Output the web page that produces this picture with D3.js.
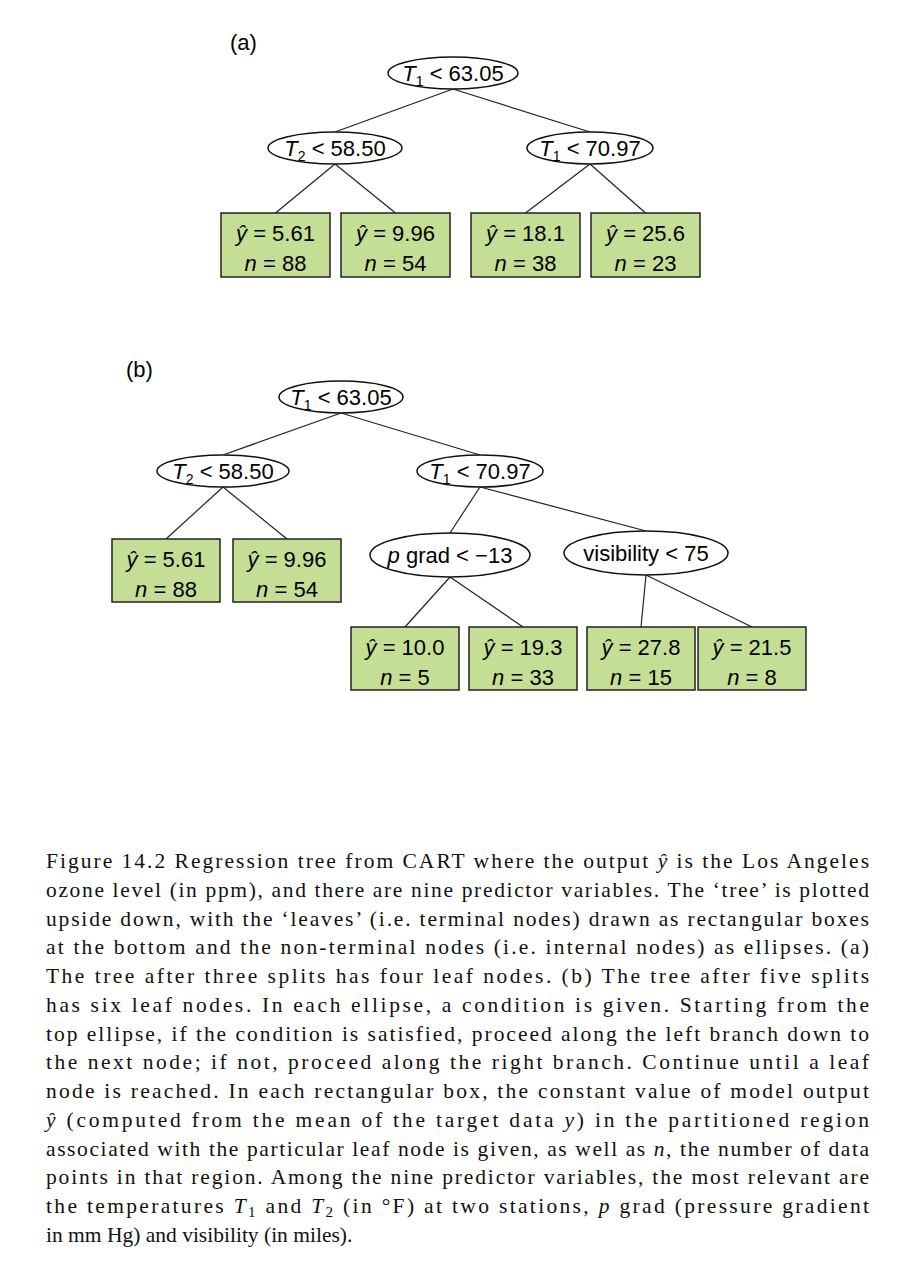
<!DOCTYPE html>
<html><head><meta charset="utf-8">
<script src="https://cdn.jsdelivr.net/npm/d3@7"></script>
<style>body{margin:0;background:#fff}</style>
</head><body>
<svg width="908" height="1280"></svg>
<script>
// Node labels: segments of [text, style] (i = italic, s = subscript)
var splitA = ["T1<63.05", "T2<58.50", "T1<70.97"];
var leafYA = ["5.61", "9.96", "18.1", "25.6"];
var leafNA = ["88", "54", "38", "23"];
var splitB = ["T1<63.05", "T2<58.50", "T1<70.97", "pgrad", "visibility < 75"];
var leafYB = ["5.61", "9.96", "10.0", "19.3", "27.8", "21.5"];
var leafNB = ["88", "54", "5", "33", "15", "8"];
var caption = [
  "Figure 14.2 Regression tree from CART where the output |ŷ| is the Los Angeles",
  "ozone level (in ppm), and there are nine predictor variables. The ‘tree’ is plotted",
  "upside down, with the ‘leaves’ (i.e. terminal nodes) drawn as rectangular boxes",
  "at the bottom and the non-terminal nodes (i.e. internal nodes) as ellipses. (a)",
  "The tree after three splits has four leaf nodes. (b) The tree after five splits",
  "has six leaf nodes. In each ellipse, a condition is given. Starting from the",
  "top ellipse, if the condition is satisfied, proceed along the left branch down to",
  "the next node; if not, proceed along the right branch. Continue until a leaf",
  "node is reached. In each rectangular box, the constant value of model output",
  "|ŷ| (computed from the mean of the target data |y|) in the partitioned region",
  "associated with the particular leaf node is given, as well as |n|, the number of data",
  "points in that region. Among the nine predictor variables, the most relevant are",
  "the temperatures |T|_1 and |T|_2 (in °F) at two stations, |p| grad (pressure gradient",
  "in mm Hg) and visibility (in miles)."
];

var svg = d3.select("svg");
var sans = "Liberation Sans, Arial, sans-serif";

// Layout: ellipses {cx, cy, rx}, boxes {x, y}; parent index for edges
var layoutA = {
  splits: [[453, 73, 65], [335, 148, 67], [590, 148, 63]],
  splitParent: [null, 0, 0],
  leaves: [[221, 213], [341, 213], [471, 213], [591, 213]],
  leafParent: [1, 1, 2, 2], bw: 109, bh: 64
};
var layoutB = {
  splits: [[341, 397, 62], [223, 471, 66], [480, 471, 63], [450, 555, 80], [646, 553, 82]],
  splitParent: [null, 0, 0, 2, 2],
  leaves: [[112, 539], [233, 539], [351, 627], [469, 627], [587, 627], [698, 627]],
  leafParent: [1, 1, 3, 3, 4, 4], bw: 108, bh: 63
};

function splitLabel(t, s, cx, cy) {
  var txt = t.append("text").attr("x", cx).attr("y", cy + 8).attr("text-anchor", "middle")
    .attr("font-family", sans).attr("font-size", 22);
  var m = s.match(/^T(\d)<(.*)$/);
  if (m) {
    txt.append("tspan").attr("font-style", "italic").text("T");
    txt.append("tspan").attr("font-size", 14).attr("dy", 5).text(m[1]);
    txt.append("tspan").attr("dy", -5).text(" < " + m[2]);
  } else if (s === "pgrad") {
    txt.append("tspan").attr("font-style", "italic").text("p");
    txt.append("tspan").text(" grad < \u221213");
  } else txt.text(s);
}

function drawTree(layout, splits, ys, ns) {
  var ry = 16;
  var g = svg.append("g");
  layout.splits.forEach(function(e, i) {
    var p = layout.splitParent[i];
    if (p === null) return;
    var pe = layout.splits[p];
    g.append("line").attr("x1", pe[0]).attr("y1", pe[1] + ry).attr("x2", e[0]).attr("y2", e[1] - (i >= 3 ? 22 : ry))
      .attr("stroke", "#222").attr("stroke-width", 1.2);
  });
  layout.leaves.forEach(function(b, i) {
    var pe = layout.splits[layout.leafParent[i]];
    var pry = layout.leafParent[i] >= 3 ? 22 : ry;
    var off = (i % 2 === 0) ? -1 : 1;
    g.append("line").attr("x1", pe[0]).attr("y1", pe[1] + pry).attr("x2", b[0] + layout.bw / 2 + off * 0)
      .attr("y2", b[1]).attr("stroke", "#222").attr("stroke-width", 1.2);
  });
  layout.splits.forEach(function(e, i) {
    var r = i >= 3 ? 22 : ry;
    g.append("ellipse").attr("cx", e[0]).attr("cy", e[1]).attr("rx", e[2]).attr("ry", r)
      .attr("fill", "#fff").attr("stroke", "#111").attr("stroke-width", 1.5);
    splitLabel(g, splits[i], e[0], e[1]);
  });
  layout.leaves.forEach(function(b, i) {
    g.append("rect").attr("x", b[0]).attr("y", b[1]).attr("width", layout.bw).attr("height", layout.bh)
      .attr("fill", "#c5de96").attr("stroke", "#222").attr("stroke-width", 1.5);
    var cx = b[0] + layout.bw / 2;
    var t1 = g.append("text").attr("x", cx).attr("y", b[1] + 28).attr("text-anchor", "middle")
      .attr("font-family", sans).attr("font-size", 22);
    t1.append("tspan").attr("font-style", "italic").text("\u0177");
    t1.append("tspan").text(" = " + ys[i]);
    var t2 = g.append("text").attr("x", cx).attr("y", b[1] + 58).attr("text-anchor", "middle")
      .attr("font-family", sans).attr("font-size", 22);
    t2.append("tspan").attr("font-style", "italic").text("n");
    t2.append("tspan").text(" = " + ns[i]);
  });
}

svg.append("text").attr("x", 230).attr("y", 50).attr("font-family", sans).attr("font-size", 22).text("(a)");
svg.append("text").attr("x", 126).attr("y", 377).attr("font-family", sans).attr("font-size", 22).text("(b)");
drawTree(layoutA, splitA, leafYA, leafNA);
drawTree(layoutB, splitB, leafYB, leafNB);

// Caption: justified serif lines; |x| marks italic, _d subscript
var lineY = d3.scaleLinear().domain([0, caption.length - 1]).range([868, 1242]);
caption.forEach(function(line, i) {
  var t = svg.append("text").attr("x", 46).attr("y", lineY(i))
    .attr("font-family", "Liberation Serif, DejaVu Serif, serif").attr("font-size", 21.5).attr("fill", "#111");
  line.split("|").forEach(function(part, k) {
    if (k % 2 === 1) { t.append("tspan").attr("font-style", "italic").text(part); return; }
    var m = part.match(/^_(\d)(.*)$/);
    if (m) {
      t.append("tspan").attr("font-size", 15).attr("dy", 4).text(m[1]);
      t.append("tspan").attr("dy", -4).text(m[2]);
    } else t.append("tspan").text(part);
  });
  if (i < caption.length - 1) t.attr("textLength", 823).attr("lengthAdjust", "spacing");
});
</script>
</body></html>
